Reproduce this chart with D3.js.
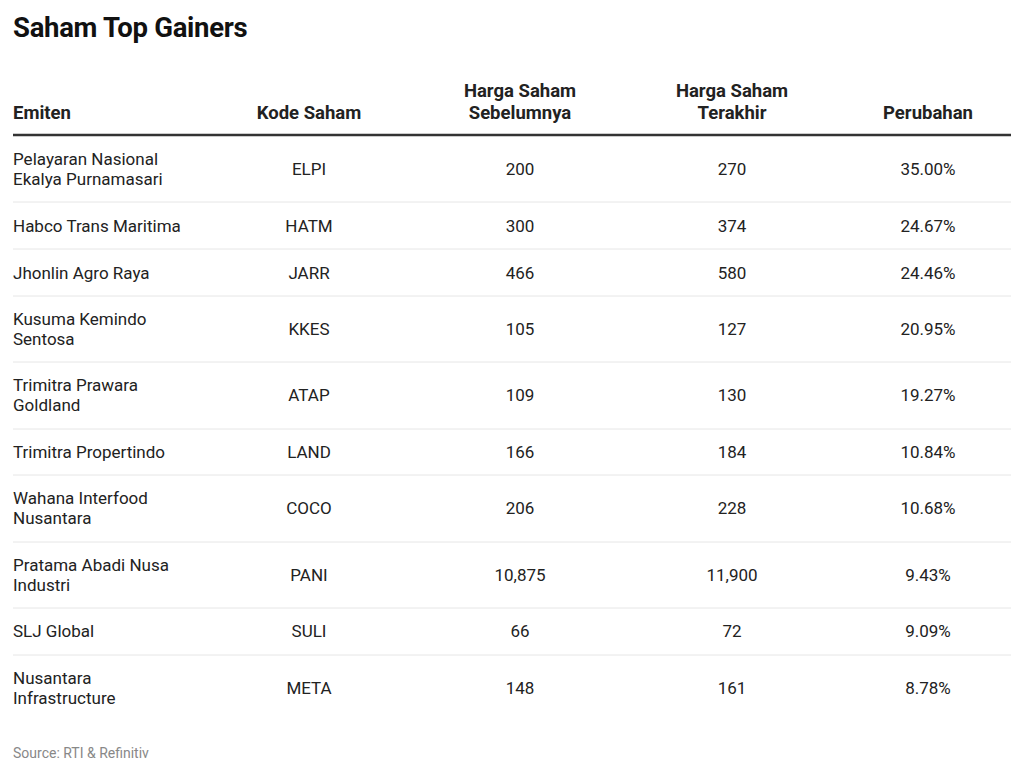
<!DOCTYPE html>
<html><head><meta charset="utf-8">
<script src="https://cdn.jsdelivr.net/npm/d3@7"></script>
<style>body{margin:0;background:#fff;font-family:Roboto,sans-serif;}</style>
</head><body>
<svg id="c" width="1024" height="775"></svg>
<script>
const headers = [["Emiten"],["Kode Saham"],["Harga Saham","Sebelumnya"],["Harga Saham","Terakhir"],["Perubahan"]];
const emiten = [["Pelayaran Nasional","Ekalya Purnamasari"],["Habco Trans Maritima"],["Jhonlin Agro Raya"],["Kusuma Kemindo","Sentosa"],["Trimitra Prawara","Goldland"],["Trimitra Propertindo"],["Wahana Interfood","Nusantara"],["Pratama Abadi Nusa","Industri"],["SLJ Global"],["Nusantara","Infrastructure"]];
const kode = ["ELPI","HATM","JARR","KKES","ATAP","LAND","COCO","PANI","SULI","META"];
const hargaSebelum = [200,300,466,105,109,166,206,10875,66,148];
const hargaTerakhir = [270,374,580,127,130,184,228,11900,72,161];
const perubahan = [35.00,24.67,24.46,20.95,19.27,10.84,10.68,9.43,9.09,8.78];

const svg = d3.select("#c");
const fmt = d3.format(",");
svg.append("text").attr("x",13).attr("y",37).attr("font-size",27.5).attr("font-weight",700).attr("fill","#111").attr("letter-spacing","-0.3").text("Saham Top Gainers");

const colX = [13,309,520,732,928];
const anchors = ["start","middle","middle","middle","middle"];
headers.forEach((lines,i)=>{
  const t = svg.append("text").attr("x",colX[i]).attr("text-anchor",anchors[i]).attr("font-size",18.5).attr("font-weight",700).attr("fill","#222");
  lines.forEach((l,j)=>t.append("tspan").attr("x",colX[i]).attr("y",119-(lines.length-1-j)*22).text(l));
});
svg.append("line").attr("x1",13).attr("x2",1011).attr("y1",135).attr("y2",135).attr("stroke","#333").attr("stroke-width",2.5);

let y = 136;
emiten.forEach((lines,r)=>{
  const h = lines.length>1 ? 66.3 : 46.8;
  const cy = y + h/2;
  const t = svg.append("text").attr("font-size",17).attr("fill","#222");
  lines.forEach((l,j)=>t.append("tspan").attr("x",13).attr("y",cy+6+(j-(lines.length-1)/2)*20).text(l));
  const vals = [kode[r], fmt(hargaSebelum[r]), fmt(hargaTerakhir[r]), perubahan[r].toFixed(2)+"%"];
  vals.forEach((v,i)=>svg.append("text").attr("x",colX[i+1]).attr("y",cy+6).attr("text-anchor","middle").attr("font-size",17).attr("fill","#222").text(v));
  y += h;
  if(r<emiten.length-1) svg.append("line").attr("x1",13).attr("x2",1011).attr("y1",Math.round(y)).attr("y2",Math.round(y)).attr("stroke","#e6e6e6").attr("stroke-width",1);
});
svg.append("text").attr("x",13).attr("y",758).attr("font-size",14).attr("fill","#888").text("Source: RTI & Refinitiv");
</script>
</body></html>
